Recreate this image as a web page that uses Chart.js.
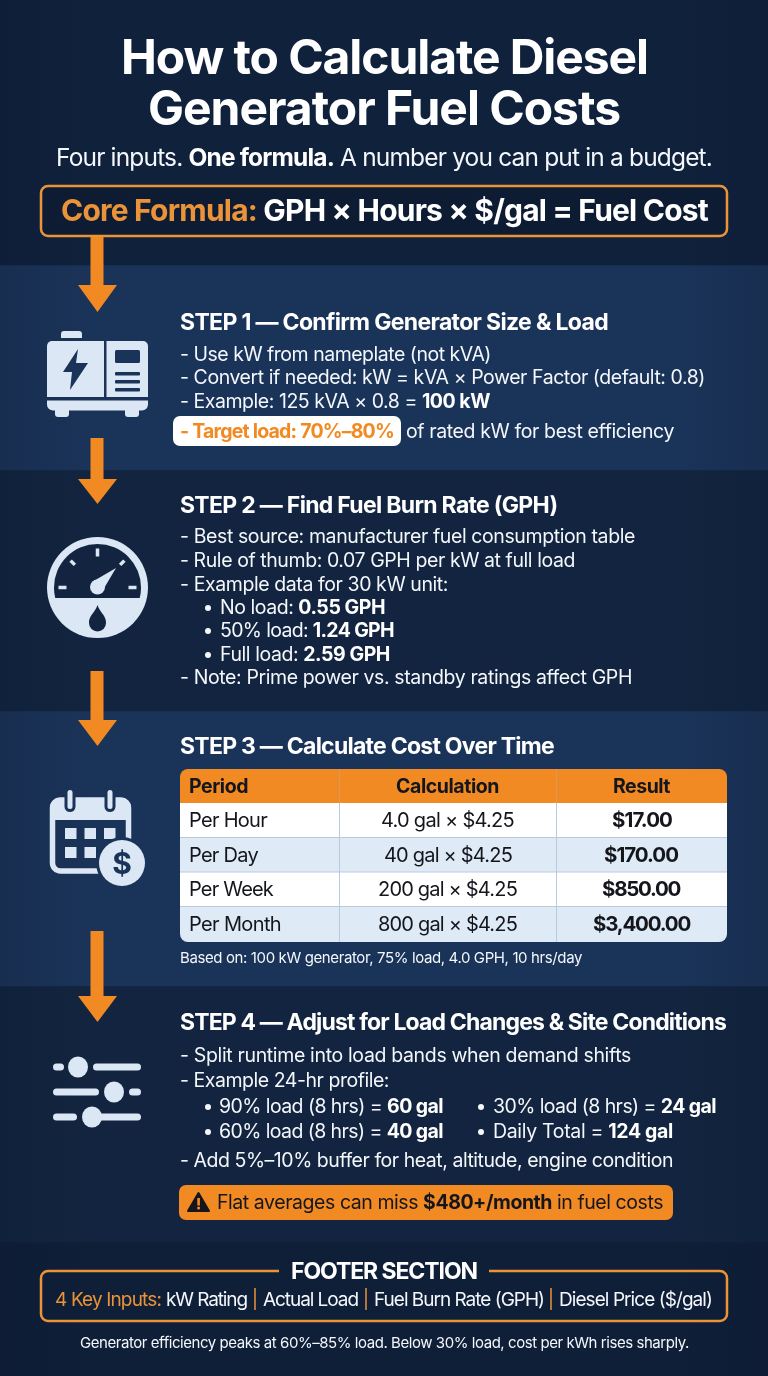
<!DOCTYPE html>
<html><head><meta charset="utf-8">
<style>html,body{margin:0;padding:0;background:#10213c}canvas{display:block}</style>
<script src="https://cdn.jsdelivr.net/npm/chart.js@4"></script>
</head><body>
<canvas id="c" width="768" height="1376" role="img" aria-label="How to Calculate Diesel Generator Fuel Costs"></canvas>
<script>
const bandNames=['Header','Step 1','Step 2','Step 3','Step 4','Footer'];
const bandHeights=[265,205,241,275,256,134];
const bandColors=['#10213c','#1a3358','#12243f','#1a3358','#12243f','#0f1f38'];
const periods=['Per Hour','Per Day','Per Week','Per Month'];
const calculations=['4.0 gal × $4.25','40 gal × $4.25','200 gal × $4.25','800 gal × $4.25'];
const results=['$17.00','$170.00','$850.00','$3,400.00'];
const tableHeaders=['Period','Calculation','Result'];
const fuelLoads=['No load: ','50% load: ','Full load: '];
const fuelRates=['0.55 GPH','1.24 GPH','2.59 GPH'];
const keyInputs=['kW Rating','Actual Load','Fuel Burn Rate (GPH)','Diesel Price ($/gal)'];

const W='#ffffff',T='#f4f7fb',O='#f28a24',OS='#ea9338',K='#14161c',L='#dbe7f4',F='Inter, "Liberation Sans", sans-serif';
const R=400,B=700;
function runs(ctx,x,y,size,list,target){
  ctx.textBaseline='alphabetic';ctx.textAlign='left';
  ctx.letterSpacing='0px';
  let w=0,n=0;
  list.forEach(r=>{ctx.font=(r[1]||R)+' '+size+'px '+F;w+=ctx.measureText(r[0]).width;n+=r[0].length;});
  const ls=target?(target-w)/n:0;
  ctx.letterSpacing=ls.toFixed(3)+'px';
  list.forEach(r=>{ctx.font=(r[1]||R)+' '+size+'px '+F;ctx.fillStyle=r[2]||T;ctx.fillText(r[0],x,y);x+=ctx.measureText(r[0]).width;});
  ctx.letterSpacing='0px';
}
function rr(ctx,x,y,w,h,r){ctx.beginPath();ctx.roundRect(x,y,w,h,r);}
function arrow(ctx,top,headTop,tip){
  ctx.fillStyle=O;ctx.fillRect(90.5,top,13,headTop-top+1);
  ctx.beginPath();ctx.moveTo(78,headTop);ctx.lineTo(117,headTop);ctx.lineTo(97.5,tip);ctx.closePath();ctx.fill();
}
function generator(ctx){
  ctx.fillStyle=L;
  rr(ctx,61,331,21,7,[3,3,0,0]);ctx.fill();
  rr(ctx,47,341,57,56,[5,0,0,0]);ctx.fill();
  rr(ctx,106.5,341,41.5,56,[0,5,0,0]);ctx.fill();
  rr(ctx,47,400.5,101,10,[0,0,6,6]);ctx.fill();
  rr(ctx,55,409,14,8,[0,0,3,3]);ctx.fill();
  rr(ctx,125,409,14,8,[0,0,3,3]);ctx.fill();
  const d='#1a3358';ctx.fillStyle=d;
  rr(ctx,115,350,25,13,1.5);ctx.fill();
  [372,380,388].forEach(y=>{rr(ctx,115,y,25,3.5,1);ctx.fill();});
  ctx.beginPath();ctx.moveTo(78,349);ctx.lineTo(63,372);ctx.lineTo(72,372);ctx.lineTo(70,390);ctx.lineTo(88,363);ctx.lineTo(76,363);ctx.closePath();ctx.fill();
}
function gauge(ctx){
  const cx=97.5,cy=587.5,d='#12243f';
  ctx.fillStyle=L;ctx.beginPath();ctx.arc(cx,cy,50.5,0,Math.PI*2);ctx.fill();
  ctx.save();ctx.beginPath();ctx.rect(0,500,200,98);ctx.clip();
  ctx.fillStyle=d;ctx.beginPath();ctx.arc(cx,cy,43.5,0,Math.PI*2);ctx.fill();ctx.restore();
  ctx.strokeStyle=L;ctx.lineWidth=3.5;ctx.lineCap='butt';
  [[-90,31,39],[-135,32,38],[-45,32,38],[180,31,39],[0,31,39]].forEach(t=>{
    const a=t[0]*Math.PI/180;ctx.beginPath();ctx.moveTo(cx+Math.cos(a)*t[1],cy+Math.sin(a)*t[1]);ctx.lineTo(cx+Math.cos(a)*t[2],cy+Math.sin(a)*t[2]);ctx.stroke();});
  ctx.fillStyle=L;ctx.beginPath();ctx.arc(cx,cy-.5,7.5,0,Math.PI*2);ctx.fill();
  ctx.beginPath();ctx.moveTo(92,582);ctx.lineTo(116,568);ctx.lineTo(103,590);ctx.closePath();ctx.fill();
  ctx.fillStyle=d;ctx.beginPath();ctx.moveTo(cx,605);ctx.bezierCurveTo(cx+2,612,cx+9,616,cx+8.5,623);ctx.arc(cx,623,8.5,0,Math.PI);ctx.bezierCurveTo(cx-9,616,cx-2,612,cx,605);ctx.fill();
}
function calendar(ctx){
  const d='#1a3358';
  ctx.strokeStyle=L;ctx.lineWidth=5.5;
  rr(ctx,52.5,800,76,71,8);ctx.stroke();
  ctx.fillStyle=L;rr(ctx,50,798,81,22,[9,9,0,0]);ctx.fill();
  [70,110].forEach(x=>{ctx.fillStyle=d;rr(ctx,x-5.5,789,11,23,5.5);ctx.fill();ctx.fillStyle=L;rr(ctx,x-2.5,790,5,19,2.5);ctx.fill();});
  ctx.fillStyle=L;
  [828,847].forEach(y=>[65,84.5,104].forEach(x=>{ctx.fillRect(x,y,11.5,11);}));
  ctx.fillStyle=d;ctx.beginPath();ctx.arc(122,863,26,0,Math.PI*2);ctx.fill();
  ctx.fillStyle=L;ctx.beginPath();ctx.arc(122,863,23,0,Math.PI*2);ctx.fill();
  ctx.fillStyle=d;ctx.font='700 30px '+F;ctx.textAlign='center';ctx.textBaseline='alphabetic';ctx.fillText('$',122,874);ctx.textAlign='left';
}
function sliders(ctx){
  ctx.fillStyle=L;
  [[53,64,1067],[93,141,1067],[53,99,1092],[129,141,1092],[53,77,1117],[92,141,1117]].forEach(s=>{rr(ctx,s[0],s[2]-3.5,s[1]-s[0],7,3.5);ctx.fill();});
  [[78,1067],[114,1092],[92,1117]].forEach(k=>{ctx.beginPath();ctx.ellipse(k[0],k[1],10,10.5,0,0,Math.PI*2);ctx.fill();});
}
const artwork={id:'artwork',afterDraw(chart){
  const ctx=chart.ctx;ctx.save();
  let g=ctx.createLinearGradient(0,0,768,0);g.addColorStop(0,'rgba(5,12,28,.12)');g.addColorStop(.12,'rgba(5,12,28,0)');g.addColorStop(.88,'rgba(5,12,28,0)');g.addColorStop(1,'rgba(5,12,28,.12)');
  ctx.fillStyle=g;ctx.fillRect(0,0,768,1376);
  // header
  runs(ctx,121,74,48,[['How to Calculate Diesel',B,W]],527);
  runs(ctx,148,125,48,[['Generator Fuel Costs',B,W]],472);
  runs(ctx,56,166,24.5,[['Four inputs. ',R],['One formula.',B,W],[' A number you can put in a budget.',R]],656);
  ctx.fillStyle='#0e1c33';rr(ctx,41,186,686,50,7);ctx.fill();
  ctx.strokeStyle=OS;ctx.lineWidth=2.5;ctx.stroke();
  runs(ctx,61,221,30,[['Core Formula: ',B,OS],['GPH × Hours × $/gal = Fuel Cost',B,W]],647);
  arrow(ctx,237,285,312);arrow(ctx,438,479,504);arrow(ctx,671,720,746);arrow(ctx,931,996,1022);
  // step 1
  generator(ctx);
  runs(ctx,180,330,23,[['STEP 1 — Confirm Generator Size & Load',B,W]],428);
  runs(ctx,180,361,19.5,[['- Use kW from nameplate (not kVA)']],311);
  runs(ctx,180,384,19.5,[['- Convert if needed: kW = kVA × Power Factor (default: 0.8)']],525);
  runs(ctx,180,408,19.5,[['- Example: 125 kVA × 0.8 = ',R],['100 kW',B,W]],310);
  ctx.fillStyle=W;rr(ctx,173,416,228,30,7);ctx.fill();
  runs(ctx,180,438,19.5,[['- Target load: 70%–80%',B,O]],214);
  runs(ctx,406,438,19.5,[['of rated kW for best efficiency']],268);
  // step 2
  gauge(ctx);
  runs(ctx,180,513,23,[['STEP 2 — Find Fuel Burn Rate (GPH)',B,W]],377);
  runs(ctx,180,543,19.5,[['- Best source: manufacturer fuel consumption table']],455);
  runs(ctx,180,567,19.5,[['- Rule of thumb: 0.07 GPH per kW at full load']],395);
  runs(ctx,180,591,19.5,[['- Example data for 30 kW unit:']],268);
  const fw=[165,174,170];
  fuelLoads.forEach((l,i)=>{const y=[614,637,661][i];
    ctx.fillStyle=T;ctx.beginPath();ctx.arc(208,y-6,3,0,7);ctx.fill();
    runs(ctx,220,y,19.5,[[l,R],[fuelRates[i],B,W]],fw[i]);});
  runs(ctx,180,684,19.5,[['- Note: Prime power vs. standby ratings affect GPH']],452);
  // step 3
  calendar(ctx);
  runs(ctx,180,754,23,[['STEP 3 — Calculate Cost Over Time',B,W]],374);
  const ys=[769,803,837.5,872,906.5,942];
  ctx.save();rr(ctx,180,769,547,173,8);ctx.clip();
  for(let i=0;i<5;i++){ctx.fillStyle=i===0?O:(i%2?'#ffffff':'#deeaf6');ctx.fillRect(180,ys[i],547,ys[i+1]-ys[i]);}
  ctx.fillStyle='#b9cadd';
  for(let i=2;i<5;i++)ctx.fillRect(180,ys[i]-.5,547,1);
  ctx.fillRect(339,803,1,139);ctx.fillRect(556,803,1,139);
  ctx.fillStyle='#d99a58';ctx.fillRect(339,769,1,34);ctx.fillRect(556,769,1,34);
  ctx.restore();
  runs(ctx,189,793,19.5,[[tableHeaders[0],B,K]],59);
  runs(ctx,396,793,19.5,[[tableHeaders[1],B,K]],103);
  runs(ctx,613,793,19.5,[[tableHeaders[2],B,K]],57);
  const pw=[78,69,84,92],cx=[381,384,378,378],cw=[133,128,139,139],rx=[612,604,602,593],rw=[60,74,78,97];
  periods.forEach((p,i)=>{const y=[827,862,896,931][i];
    runs(ctx,189,y,20,[[p,R,K]],pw[i]);
    runs(ctx,cx[i],y,20,[[calculations[i],R,K]],cw[i]);
    runs(ctx,rx[i],y,20.5,[[results[i],B,K]],rw[i]);});
  runs(ctx,180,963,15,[['Based on: 100 kW generator, 75% load, 4.0 GPH, 10 hrs/day']],402);
  // step 4
  sliders(ctx);
  runs(ctx,180,1030,23,[['STEP 4 — Adjust for Load Changes & Site Conditions',B,W]],546);
  runs(ctx,180,1062,19.5,[['- Split runtime into load bands when demand shifts']],451);
  runs(ctx,180,1087,19.5,[['- Example 24-hr profile:']],209);
  [[208,219,1113,'90% load (8 hrs) = ','60 gal',224],[481,493,1113,'30% load (8 hrs) = ','24 gal',223],
   [208,219,1138,'60% load (8 hrs) = ','40 gal',224],[481,493,1138,'Daily Total = ','124 gal',180]].forEach(b=>{
    ctx.fillStyle=T;ctx.beginPath();ctx.arc(b[0],b[2]-6,3,0,7);ctx.fill();
    runs(ctx,b[1],b[2],19.5,[[b[3],R],[b[4],B,W]],b[5]);});
  runs(ctx,180,1167,19.5,[['- Add 5%–10% buffer for heat, altitude, engine condition']],493);
  ctx.fillStyle=O;rr(ctx,179,1185,494,35,7);ctx.fill();
  ctx.fillStyle=K;ctx.lineJoin='round';ctx.strokeStyle=K;ctx.lineWidth=2;
  ctx.beginPath();ctx.moveTo(198.5,1193);ctx.lineTo(209,1211);ctx.lineTo(188,1211);ctx.closePath();ctx.fill();ctx.stroke();
  ctx.fillStyle=O;ctx.fillRect(197.3,1198,2.6,7.5);ctx.beginPath();ctx.arc(198.6,1208,1.5,0,7);ctx.fill();
  runs(ctx,217,1209,19.5,[['Flat averages can miss ',R,K],['$480+/month',B,K],[' in fuel costs',R,K]],446);
  // footer
  ctx.strokeStyle=OS;ctx.lineWidth=2.5;
  ctx.beginPath();ctx.moveTo(279,1271);ctx.lineTo(48,1271);ctx.arcTo(41,1271,41,1278,7);ctx.lineTo(41,1314);ctx.arcTo(41,1321,48,1321,7);ctx.lineTo(720,1321);ctx.arcTo(727,1321,727,1314,7);ctx.lineTo(727,1278);ctx.arcTo(727,1271,720,1271,7);ctx.lineTo(489,1271);ctx.stroke();
  runs(ctx,291,1279,23,[['FOOTER SECTION',B,W]],186);
  runs(ctx,55,1306,19,[['4 Key Inputs:',R,OS]],106);
  const kx=[[166,81],[263,95],[374,170],[559,153]];
  keyInputs.forEach((k,i)=>runs(ctx,kx[i][0],1306,19,[[k,R]],kx[i][1]));
  ctx.fillStyle=OS;[255,366,551].forEach(x=>ctx.fillRect(x-.75,1288,1.5,22));
  runs(ctx,80,1348,15,[['Generator efficiency peaks at 60%–85% load. Below 30% load, cost per kWh rises sharply.']],609);
  ctx.restore();
}};
new Chart(document.getElementById('c'),{
  type:'bar',
  data:{labels:['Guide'],datasets:bandNames.map((n,i)=>({label:n,data:[bandHeights[i]],backgroundColor:bandColors[i],borderWidth:0,barPercentage:1,categoryPercentage:1,stack:'s'}))},
  options:{responsive:false,animation:false,devicePixelRatio:1,layout:{padding:0},
    plugins:{legend:{display:false},tooltip:{enabled:false}},
    scales:{x:{display:false,stacked:true,grid:{display:false}},y:{display:false,stacked:true,reverse:true,min:0,max:1376,grid:{display:false}}}},
  plugins:[artwork]
});
</script>
</body></html>
